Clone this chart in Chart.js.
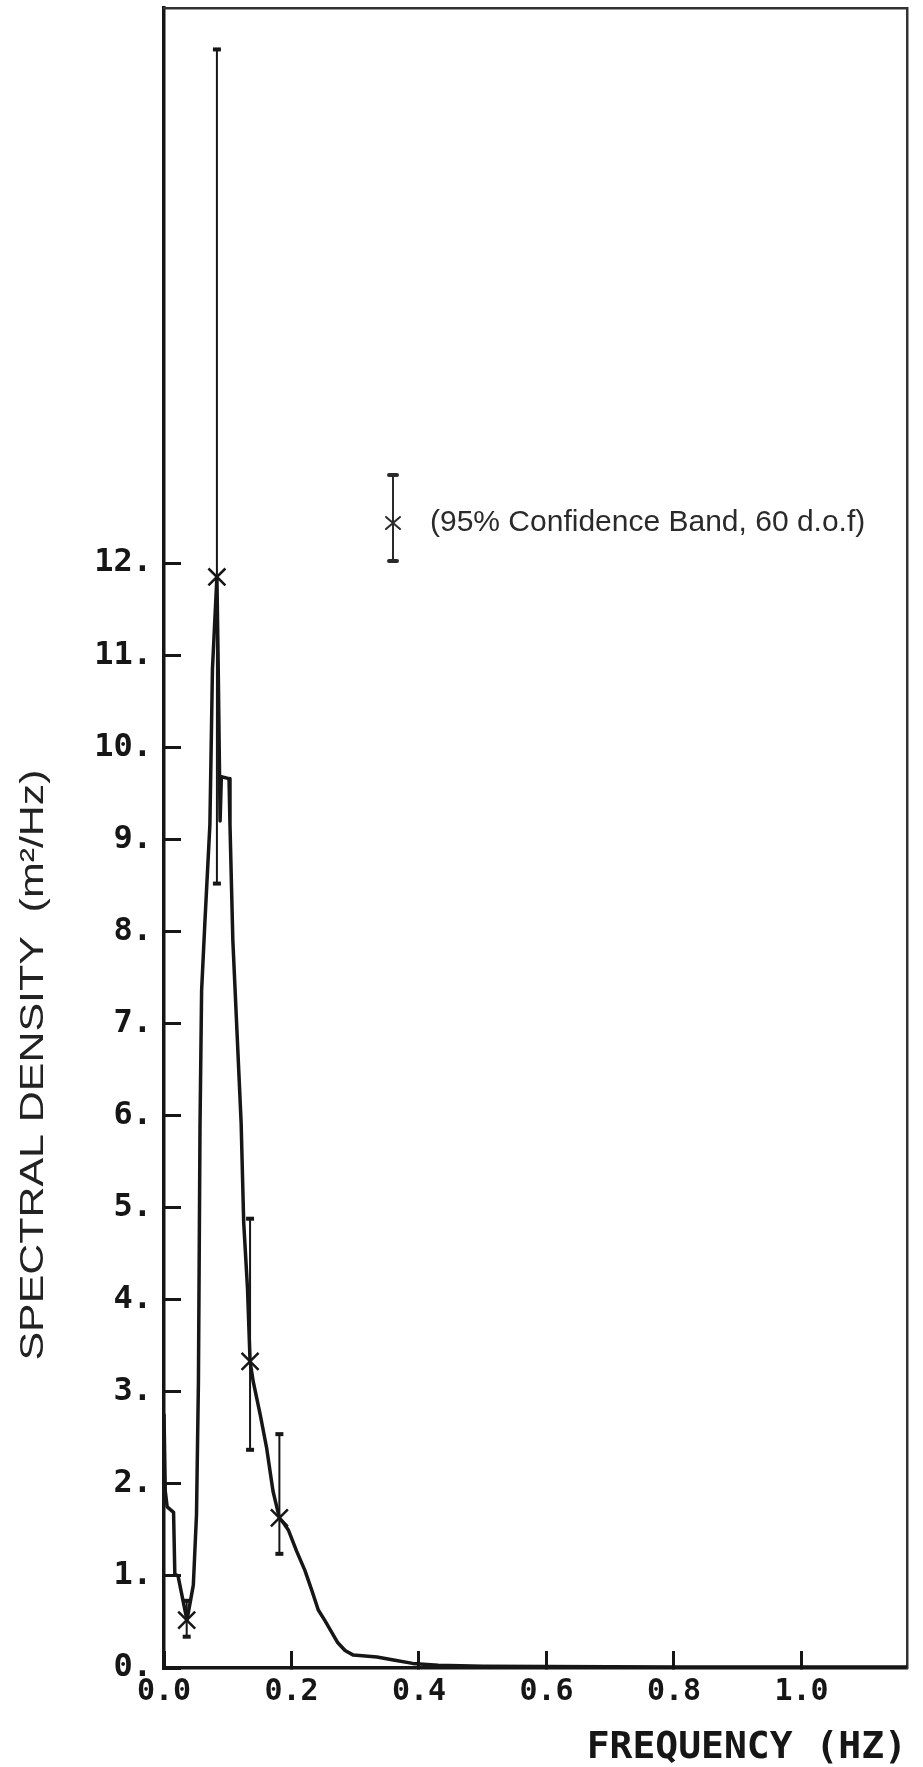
<!DOCTYPE html>
<html>
<head>
<meta charset="utf-8">
<script src="https://cdn.jsdelivr.net/npm/chart.js@4/dist/chart.umd.min.js"></script>
<style>
  html, body { margin: 0; padding: 0; background: #fff; }
  #wrap { width: 923px; height: 1767px; position: relative; }
</style>
</head>
<body>
<div id="wrap"><canvas id="spectrum"></canvas></div>
<script>
// Wave spectrum: frequency (Hz) vs spectral density (m^2/Hz)
const freq = [0.000, 0.002, 0.005, 0.015, 0.017, 0.022, 0.036, 0.046, 0.051, 0.054,
  0.0565, 0.059, 0.064, 0.072, 0.076, 0.083, 0.085, 0.088, 0.090, 0.102,
  0.1035, 0.108, 0.121, 0.125, 0.131, 0.135, 0.140, 0.151, 0.161, 0.171,
  0.181, 0.187, 0.195, 0.208, 0.221, 0.232, 0.242, 0.252, 0.262, 0.272,
  0.284, 0.297, 0.334, 0.360, 0.390, 0.430, 0.500, 0.600, 0.800, 1.000, 1.165];
const density = [2.75, 1.92, 1.75, 1.69, 1.02, 1.00, 0.52, 0.90, 1.67, 3.10,
  5.90, 7.36, 8.08, 9.16, 10.85, 11.85, 10.90, 9.20, 9.68, 9.66,
  9.16, 7.90, 5.92, 4.84, 4.12, 3.33, 3.11, 2.75, 2.39, 1.92,
  1.63, 1.58, 1.50, 1.27, 1.06, 0.84, 0.63, 0.52, 0.40, 0.28,
  0.19, 0.14, 0.12, 0.086, 0.05, 0.03, 0.02, 0.015, 0.01, 0.01, 0.01];

// 95% confidence bands (60 d.o.f) at selected frequencies
const bandFreq   = [0.0356, 0.083, 0.135, 0.181];
const bandCenter = [0.52, 11.85, 3.33, 1.63];
const bandLow    = [0.34, 8.52, 2.37, 1.24];
const bandHigh   = [0.73, 17.58, 4.88, 2.54];

const yTickValues = [0, 1, 2, 3, 4, 5, 6, 7, 8, 9, 10, 11, 12];
const xTickValues = [0, 0.2, 0.4, 0.6, 0.8, 1.0];

const yTitleText = 'SPECTRAL DENSITY  (m\u00B2/Hz)';
const xTitleText = 'FREQUENCY (HZ)';
const bandNote = '(95% Confidence Band, 60 d.o.f)';

const INK = '#161616';
const PLOT_FONT = 'DejaVu Sans Mono';
const TEXT_FONT = 'Liberation Sans, Arial, Helvetica, sans-serif';

const curvePoints = freq.map((f, i) => ({ x: f, y: density[i] }));
const bandSegments = [];
bandFreq.forEach((f, i) => {
  bandSegments.push({ x: f, y: bandLow[i] }, { x: f, y: bandHigh[i] }, { x: f, y: null });
});
const bandMarks = bandFreq.map((f, i) => ({ x: f, y: bandCenter[i] }));

// The vertical axis title is set along a taller, stretched baseline
const yTitleCenter = 1065;
const yTitleStretch = 1.3;
const stretchTitle = {
  id: 'stretchTitle',
  beforeDraw(chart) {
    const sc = chart.scales.y;
    if (sc._stretched) return;
    sc._stretched = true;
    const base = Chart.Scale.prototype.drawTitle;
    sc.drawTitle = function () {
      const ctx = this.ctx;
      const mid = (this.top + this.bottom) / 2;
      ctx.save();
      ctx.translate(0, yTitleCenter);
      ctx.scale(1, yTitleStretch);
      ctx.translate(0, -mid);
      base.call(this);
      ctx.restore();
    };
  }
};

// Key for the confidence band symbol
const bandKey = {
  id: 'bandKey',
  afterDraw(chart) {
    const ctx = chart.ctx;
    const x = 393, top = 475, bottom = 561, mid = 523;
    ctx.save();
    ctx.strokeStyle = '#2a2a2a';
    ctx.lineCap = 'round';
    ctx.lineWidth = 2;
    ctx.beginPath();
    ctx.moveTo(x, top); ctx.lineTo(x, bottom);
    ctx.stroke();
    ctx.lineWidth = 4;
    ctx.beginPath();
    ctx.moveTo(x - 4, top); ctx.lineTo(x + 4, top);
    ctx.moveTo(x - 4, bottom); ctx.lineTo(x + 4, bottom);
    ctx.stroke();
    ctx.lineWidth = 2;
    ctx.beginPath();
    ctx.moveTo(x - 7, mid - 6); ctx.lineTo(x + 7, mid + 6);
    ctx.moveTo(x + 7, mid - 6); ctx.lineTo(x - 7, mid + 6);
    ctx.stroke();
    ctx.fillStyle = '#2a2a2a';
    ctx.font = '30px ' + TEXT_FONT;
    ctx.textAlign = 'left';
    ctx.textBaseline = 'middle';
    ctx.fillText(bandNote, 430, mid);
    ctx.restore();
  }
};

const noEdgePadding = s => { s.paddingTop = 0; s.paddingBottom = 0; s.paddingLeft = 0; s.paddingRight = 0; };

new Chart(document.getElementById('spectrum'), {
  type: 'scatter',
  data: {
    datasets: [
      {
        label: 'spectrum',
        data: curvePoints,
        showLine: true,
        borderColor: INK,
        borderWidth: 3.5,
        pointRadius: 0,
        tension: 0,
        borderJoinStyle: 'round',
        borderCapStyle: 'round',
        order: 3
      },
      {
        label: 'band',
        data: bandSegments,
        showLine: true,
        spanGaps: false,
        borderColor: INK,
        borderWidth: 2,
        pointStyle: 'line',
        pointRadius: 4,
        pointBorderWidth: 4,
        pointBorderColor: INK,
        order: 2
      },
      {
        label: 'estimate',
        data: bandMarks,
        showLine: false,
        pointStyle: 'crossRot',
        pointRadius: 12,
        pointBorderWidth: 2.5,
        pointBorderColor: INK,
        order: 1
      }
    ]
  },
  options: {
    responsive: true,
    maintainAspectRatio: false,
    animation: false,
    events: [],
    layout: { autoPadding: false, padding: { top: 8, right: 16, bottom: 0, left: 0 } },
    plugins: { legend: { display: false }, tooltip: { enabled: false } },
    scales: {
      x: {
        type: 'linear',
        position: 'bottom',
        min: 0,
        max: 1.1655,
        afterBuildTicks: s => { s.ticks = xTickValues.map(v => ({ value: v })); },
        afterFit: s => { s.height = 99; noEdgePadding(s); },
        grid: { drawOnChartArea: false, drawTicks: true, tickLength: -17, tickWidth: 3, tickColor: INK },
        border: { display: true, width: 3.5, color: INK },
        ticks: {
          padding: 23,
          color: INK,
          maxRotation: 0,
          font: { family: PLOT_FONT, size: 30, weight: 'bold' },
          callback: v => Number(v).toFixed(1)
        },
        title: {
          display: true,
          text: xTitleText,
          align: 'end',
          color: INK,
          padding: { top: 0, bottom: 0 },
          font: { family: PLOT_FONT, size: 38, weight: 'bold', lineHeight: 1 }
        }
      },
      y: {
        type: 'linear',
        position: 'left',
        min: 0,
        max: 18.03,
        afterBuildTicks: s => { s.ticks = yTickValues.map(v => ({ value: v })); },
        afterFit: s => { s.width = 164; noEdgePadding(s); },
        grid: { drawOnChartArea: false, drawTicks: true, tickLength: -17, tickWidth: 3, tickColor: INK },
        border: { display: true, width: 3.5, color: INK },
        ticks: {
          padding: 29,
          color: INK,
          font: { family: PLOT_FONT, size: 32, weight: 'bold' },
          callback: v => v + '.'
        },
        title: {
          display: true,
          text: yTitleText,
          color: '#222',
          padding: { top: 16, bottom: 0 },
          font: { family: TEXT_FONT, size: 33, lineHeight: 1.1 }
        }
      },
      xTop: {
        type: 'linear',
        position: 'top',
        min: 0,
        max: 1.1655,
        afterFit: s => { s.height = 0; noEdgePadding(s); },
        grid: { drawOnChartArea: false, drawTicks: false },
        border: { display: true, width: 2.5, color: '#333' },
        ticks: { display: false }
      },
      yRight: {
        type: 'linear',
        position: 'right',
        min: 0,
        max: 18.03,
        afterFit: s => { s.width = 0; noEdgePadding(s); },
        grid: { drawOnChartArea: false, drawTicks: false },
        border: { display: true, width: 2.5, color: '#333' },
        ticks: { display: false }
      }
    }
  },
  plugins: [stretchTitle, bandKey]
});
</script>
</body>
</html>
